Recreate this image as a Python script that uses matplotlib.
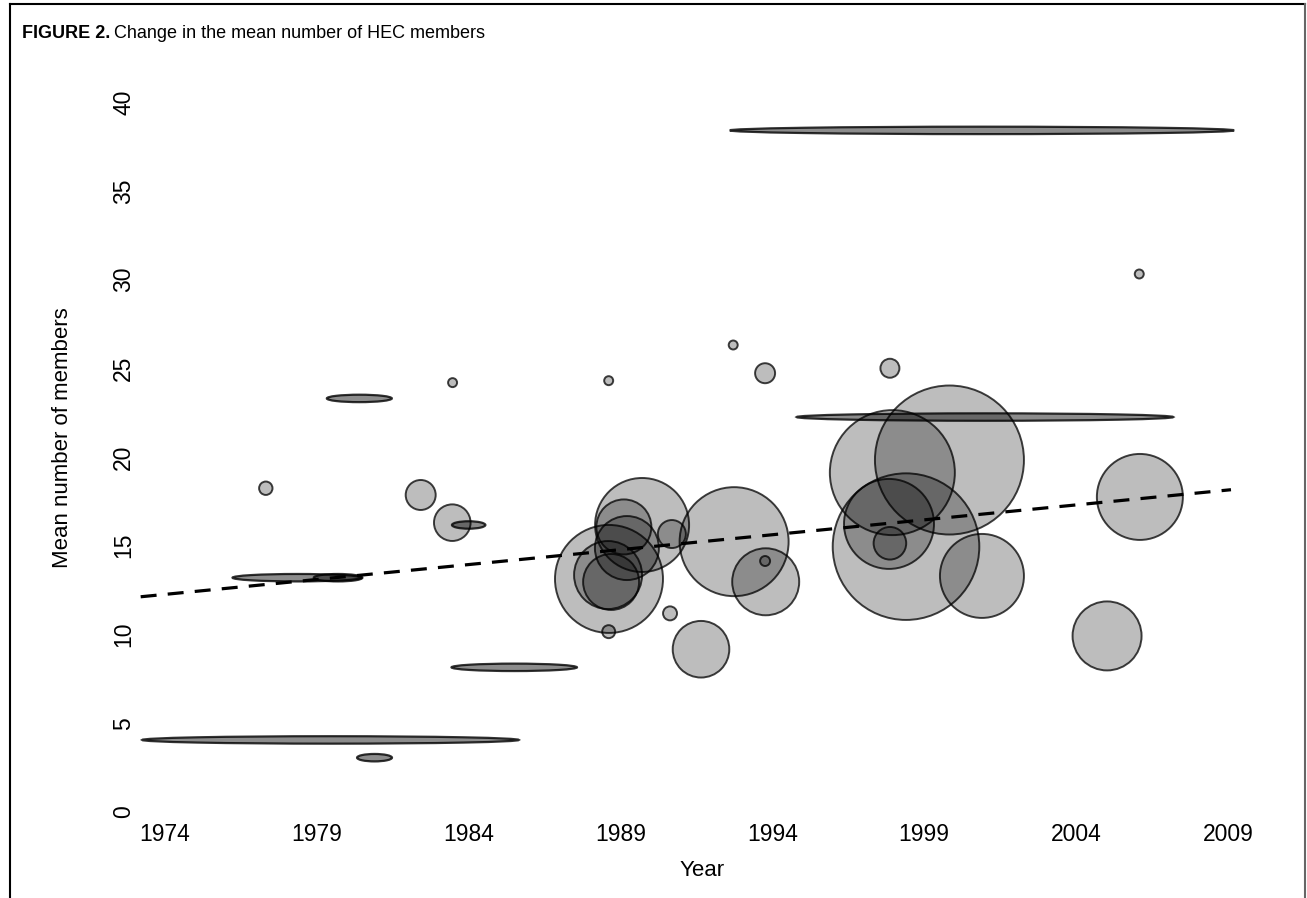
import matplotlib
matplotlib.use("Agg")
import matplotlib.pyplot as plt
from matplotlib.patches import Ellipse
from matplotlib.lines import Line2D
import numpy as np

# Circles: year, mean number of members, bubble radius (px)
circle_year = [1977.32, 1982.42, 1983.46, 1983.47, 1988.61, 1992.71, 1993.76, 1997.87,
               2006.08, 1988.62, 1988.59, 1988.69, 1989.21, 1989.11, 1989.71, 1990.69,
               1990.63, 1988.61, 1991.65, 1992.74, 1993.78, 1993.76, 1997.95, 1999.83,
               1998.40, 1997.84, 1997.87, 2000.90, 2006.10, 2005.02]
circle_mean = [18.24, 17.86, 16.30, 24.19, 24.30, 26.31, 24.72, 25.00,
               30.31, 13.13, 13.35, 12.96, 14.87, 16.06, 16.17, 15.66,
               11.19, 10.16, 9.17, 15.23, 12.97, 14.14, 19.12, 19.83,
               14.95, 16.23, 15.14, 13.30, 17.75, 9.92]
circle_radius = [6.7, 15, 18.3, 4.5, 4.5, 4.5, 10, 9.5,
                 4.5, 54, 34, 28, 32, 27.5, 47, 14,
                 7, 6.5, 28.3, 54.5, 33.5, 5, 62.5, 74.5,
                 73.3, 45, 16.3, 42, 43, 34.5]

# Multi-year studies: midpoint year, span in years, mean number of members
span_mid = [2000.9, 2001.0, 1980.4, 1978.35, 1979.7, 1984.0, 1985.5, 1979.45, 1980.9]
span_len = [16.6, 12.4, 2.14, 4.25, 1.6, 1.1, 4.13, 12.4, 1.15]
span_mean = [38.4, 22.25, 23.3, 13.2, 13.2, 16.17, 8.15, 4.06, 3.06]

# Fitted trend
trend_intercept = 12.26   # value at 1974
trend_slope = 0.168
trend_start, trend_end = 1973.2, 2009.1

year_ticks = list(range(1974, 2010, 5))
member_ticks = list(range(0, 41, 5))

FONT = ["Liberation Sans Narrow", "Liberation Sans", "DejaVu Sans"]

fig = plt.figure(figsize=(13.07, 8.98), dpi=100)
ax = fig.add_axes([0.10995, 0.09577, 0.8528, 0.81041])
ax.set_xlim(1973.3, 2010)
ax.set_ylim(0, 41)

fill = (0, 0, 0, 0.26)
edge = (0, 0, 0, 0.75)

sizes = [(2 * r * 0.72) ** 2 for r in circle_radius]
ax.scatter(circle_year, circle_mean, s=sizes, facecolor=fill, edgecolor=edge,
           linewidth=1.4, clip_on=False, zorder=2)

for mid, length, mean in zip(span_mid, span_len, span_mean):
    e = Ellipse((mid, mean), length, 0.42, facecolor=(0, 0, 0, 0.45),
                edgecolor=(0, 0, 0, 0.8), linewidth=1.6, clip_on=False, zorder=2)
    ax.add_patch(e)

xs = np.array([trend_start, trend_end])
ax.plot(xs, trend_intercept + trend_slope * (xs - 1974), color="black",
        linewidth=2.3, dashes=(5, 3.5), clip_on=False, zorder=3)

for s in ax.spines.values():
    s.set_visible(False)
ax.set_xticks(year_ticks)
ax.set_yticks(member_ticks)
ax.tick_params(length=0)
ax.tick_params(axis="x", pad=8)
ax.tick_params(axis="y", pad=6)
for lab in ax.get_xticklabels():
    lab.set_fontfamily(FONT)
    lab.set_fontsize(16.5)
for lab in ax.get_yticklabels():
    lab.set_fontfamily(FONT)
    lab.set_fontsize(16.5)
    lab.set_rotation(90)
    lab.set_va("center")

fig.text(63 / 1307, 1 - 438 / 898, "Mean number of members", rotation=90,
         ha="center", va="center", fontsize=16, family=FONT)
fig.text(702 / 1307, 1 - 870 / 898, "Year", ha="center", va="center",
         fontsize=16, family=FONT)

t = fig.text(22 / 1307, 1 - 38 / 898, "FIGURE 2.", ha="left", va="baseline",
             fontsize=13, fontweight="bold", family=FONT)
fig.canvas.draw()
bb = t.get_window_extent()
fig.text((bb.x1 + 4) / 1307, 1 - 38 / 898, "Change in the mean number of HEC members",
         ha="left", va="baseline", fontsize=13, family=FONT)

# page frame
fig.add_artist(Line2D([10 / 1307, 10 / 1307], [0, 1 - 4 / 898], color="black", linewidth=1.5))
fig.add_artist(Line2D([10 / 1307, 1305 / 1307], [1 - 4 / 898, 1 - 4 / 898], color="black", linewidth=1.5))
fig.add_artist(Line2D([1305 / 1307, 1305 / 1307], [0, 1 - 4 / 898], color="#666666", linewidth=1.5))

fig.savefig("out.png", dpi=100)
